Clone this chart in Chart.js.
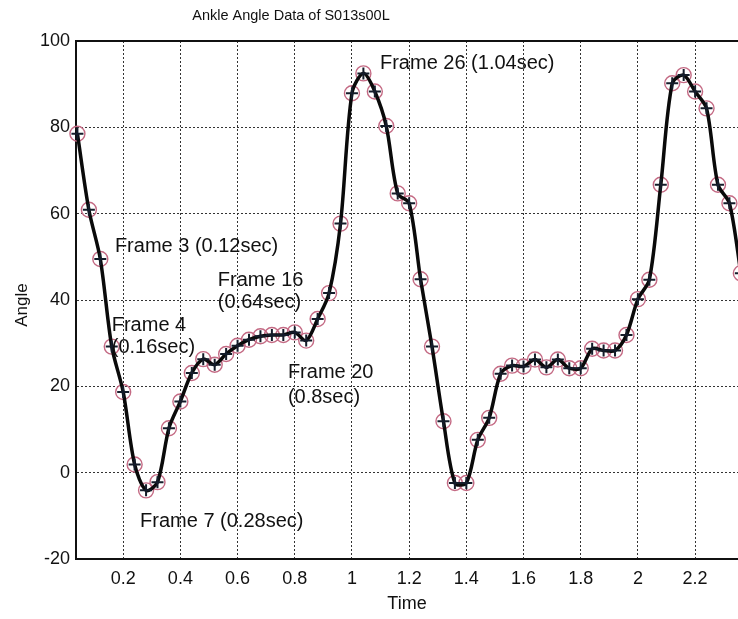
<!DOCTYPE html>
<html>
<head>
<meta charset="utf-8">
<script src="https://cdn.jsdelivr.net/npm/chart.js@4.4.1/dist/chart.umd.min.js"></script>
<style>
  html, body { margin: 0; padding: 0; background: #fff; }
  canvas { display: block; }
</style>
</head>
<body>
<canvas id="myChart" width="738" height="619"></canvas>
<script>
// frame times (sec) and ankle angle (deg)
const times = [
  0.04, 0.08, 0.12, 0.16, 0.20, 0.24, 0.28, 0.32, 0.36, 0.40,
  0.44, 0.48, 0.52, 0.56, 0.60, 0.64, 0.68, 0.72, 0.76, 0.80,
  0.84, 0.88, 0.92, 0.96, 1.00, 1.04, 1.08, 1.12, 1.16, 1.20,
  1.24, 1.28, 1.32, 1.36, 1.40, 1.44, 1.48, 1.52, 1.56, 1.60,
  1.64, 1.68, 1.72, 1.76, 1.80, 1.84, 1.88, 1.92, 1.96, 2.00,
  2.04, 2.08, 2.12, 2.16, 2.20, 2.24, 2.28, 2.32, 2.36
];
const angles = [
  78.5, 60.9, 49.5, 29.2, 18.7, 1.9, -4.1, -2.2, 10.3, 16.5,
  23.1, 26.3, 25.0, 27.5, 29.4, 30.8, 31.6, 31.9, 31.9, 32.5,
  30.6, 35.6, 41.6, 57.7, 87.9, 92.5, 88.3, 80.3, 64.7, 62.4,
  44.8, 29.2, 11.9, -2.4, -2.4, 7.6, 12.7, 22.9, 24.8, 24.6,
  26.2, 24.4, 26.2, 24.2, 24.2, 28.7, 28.3, 28.3, 31.9, 40.2,
  44.7, 66.7, 90.2, 92.1, 88.3, 84.4, 66.7, 62.4, 46.2
];
const xTicks = [0.2, 0.4, 0.6, 0.8, 1, 1.2, 1.4, 1.6, 1.8, 2, 2.2];
const yTicks = [-20, 0, 20, 40, 60, 80, 100];

// text notes, anchored at data coordinates (left edge, line centres)
const notes = [
  { lines: ['Frame 3 (0.12sec)'], x: 0.171, y: [52.3] },
  { lines: ['Frame 16', '(0.64sec)'], x: 0.531, y: [44.6, 39.5] },
  { lines: ['Frame 4', '(0.16sec)'], x: 0.16, y: [34.2, 28.9] },
  { lines: ['Frame 20', '(0.8sec)'], x: 0.776, y: [23.1, 17.5] },
  { lines: ['Frame 7 (0.28sec)'], x: 0.259, y: [-11.4] },
  { lines: ['Frame 26 (1.04sec)'], x: 1.098, y: [94.7] }
];

const points = times.map((t, i) => ({ x: t, y: angles[i] }));
const FONT = "'Liberation Sans', Arial, sans-serif";

const extras = {
    id: 'extras',
    afterDraw(chart) {
        const c = chart.ctx;
        const area = chart.chartArea;
        const xs = chart.scales.x;
        const ys = chart.scales.y;
        c.save();
        // top frame line
        c.strokeStyle = '#111';
        c.lineWidth = 2;
        c.beginPath();
        c.moveTo(area.left - 1, area.top);
        c.lineTo(area.right, area.top);
        c.stroke();

        c.fillStyle = '#111';
        c.textBaseline = 'middle';

        // title
        c.font = '14.5px ' + FONT;
        c.textAlign = 'center';
        c.fillText('Ankle Angle Data of S013s00L', 291, 16);

        // axis titles
        c.font = '18px ' + FONT;
        c.fillText('Time', (area.left + area.right) / 2, 604);
        c.save();
        c.translate(22, 305);
        c.rotate(-Math.PI / 2);
        c.font = '17px ' + FONT;
        c.fillText('Angle', 0, 0);
        c.restore();

        // notes
        c.font = '20px ' + FONT;
        c.textAlign = 'left';
        notes.forEach(n => {
            n.lines.forEach((txt, k) => {
                c.fillText(txt, xs.getPixelForValue(n.x), ys.getPixelForValue(n.y[k]));
            });
        });
        c.restore();
    }
};

const ctx = document.getElementById('myChart').getContext('2d');
new Chart(ctx, {
    type: 'scatter',
    data: {
        datasets: [
            {
                label: 'Angle',
                data: points,
                showLine: true,
                borderColor: '#0a0a0a',
                borderWidth: 3.5,
                tension: 0.3,
                pointStyle: 'cross',
                pointRadius: 6,
                pointBorderWidth: 2,
                pointBorderColor: '#141c2a',
                pointBackgroundColor: '#141c2a',
                clip: false,
                order: 0
            },
            {
                label: 'Frames',
                data: points,
                showLine: false,
                pointStyle: 'circle',
                pointRadius: 7.5,
                pointBorderWidth: 1.4,
                pointBorderColor: '#c46a84',
                pointBackgroundColor: 'rgba(0,0,0,0)',
                clip: false,
                order: 1
            }
        ]
    },
    options: {
        responsive: false,
        animation: false,
        layout: { autoPadding: false, padding: { top: 41, right: 0, bottom: 0, left: 0 } },
        plugins: {
            legend: { display: false },
            title: { display: false },
            tooltip: { enabled: false }
        },
        scales: {
            x: {
                type: 'linear',
                min: 0.035,
                max: 2.35,
                afterFit: s => { s.height = 60; },
                afterBuildTicks: s => { s.ticks = xTicks.map(v => ({ value: v })); },
                border: { display: true, color: '#111', width: 2, dash: [2, 2] },
                grid: { color: '#333', lineWidth: 1, drawTicks: false },
                ticks: {
                    padding: 9,
                    color: '#111',
                    font: { size: 18, family: FONT },
                    maxRotation: 0,
                    autoSkip: false,
                    callback: v => String(v)
                }
            },
            y: {
                type: 'linear',
                min: -20,
                max: 100,
                afterFit: s => { s.width = 76; },
                afterBuildTicks: s => { s.ticks = yTicks.map(v => ({ value: v })); },
                border: { display: true, color: '#111', width: 2, dash: [2, 2] },
                grid: { color: '#333', lineWidth: 1, drawTicks: false },
                ticks: {
                    padding: 6,
                    color: '#111',
                    font: { size: 18, family: FONT },
                    callback: v => String(v)
                }
            }
        }
    },
    plugins: [extras]
});
</script>
</body>
</html>
